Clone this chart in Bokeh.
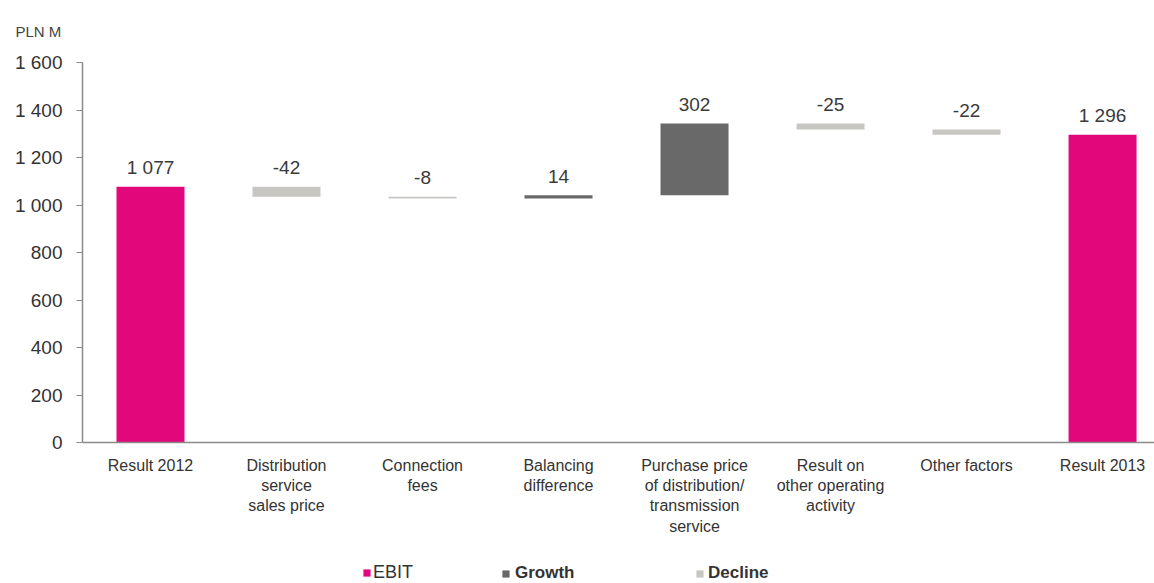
from bokeh.plotting import figure
from bokeh.layouts import column
from bokeh.models import ColumnDataSource, Range1d, FixedTicker, Legend, LegendItem
from bokeh.core.properties import value
from bokeh.embed import file_html
from bokeh.resources import INLINE

# ---- data ----
categories = [
    "Result 2012",
    "Distribution\nservice\nsales price",
    "Connection\nfees",
    "Balancing\ndifference",
    "Purchase price\nof distribution/\ntransmission\nservice",
    "Result on\nother operating\nactivity",
    "Other factors",
    "Result 2013",
]
values = [1077, -42, -8, 14, 302, -25, -22, 1296]
kinds = ["EBIT", "Decline", "Decline", "Growth", "Growth", "Decline", "Decline", "EBIT"]
value_labels = ["1 077", "-42", "-8", "14", "302", "-25", "-22", "1 296"]
y_ticks = [0, 200, 400, 600, 800, 1000, 1200, 1400, 1600]
y_tick_labels = ["0", "200", "400", "600", "800", "1 000", "1 200", "1 400", "1 600"]
unit_label = "PLN M"
legend_names = ["EBIT", "Growth", "Decline"]

colors = {"EBIT": "#e3077c", "Growth": "#696969", "Decline": "#c8c6c3"}
FONT = "Liberation Sans"

# waterfall geometry from the values
bottoms, tops = [], []
running = 0
for v, k in zip(values, kinds):
    if k == "EBIT":
        b, t = 0, v
        running = v
    else:
        b, t = running, running + v
        running += v
    bottoms.append(min(b, t))
    tops.append(max(b, t))

xs = list(range(len(categories)))

p = figure(width=1154, height=555, output_backend="svg", toolbar_location=None,
           x_range=Range1d(-0.5, 7.382), y_range=Range1d(0, 1600),
           min_border_left=82, min_border_right=0, min_border_top=62, min_border_bottom=113)
p.outline_line_color = None
p.xgrid.grid_line_color = None
p.ygrid.grid_line_color = None
p.background_fill_color = "#ffffff"
p.border_fill_color = "#ffffff"

for name in legend_names:
    idx = [i for i, k in enumerate(kinds) if k == name]
    src = ColumnDataSource(dict(x=[xs[i] for i in idx],
                                bottom=[bottoms[i] for i in idx],
                                top=[tops[i] for i in idx]))
    p.vbar(x="x", bottom="bottom", top="top", width=0.5, source=src,
           fill_color=colors[name], line_color=None)

lab_src = ColumnDataSource(dict(x=xs, y=tops, text=value_labels))
p.text(x="x", y="y", text="text", source=lab_src, text_align="center",
       text_baseline="alphabetic", y_offset=-19, text_font=value(FONT),
       text_font_size="19px", text_color="#3a3a3a")

# y axis
ya = p.yaxis[0]
ya.ticker = FixedTicker(ticks=y_ticks)
ya.major_label_overrides = {t: l for t, l in zip(y_ticks, y_tick_labels)}
ya.axis_line_color = "#8a8a8a"
ya.axis_line_width = 1.5
ya.major_tick_line_color = "#8a8a8a"
ya.major_tick_out = 6
ya.major_tick_in = 0
ya.minor_tick_line_color = None
ya.major_label_standoff = 14
ya.major_label_text_font = FONT
ya.major_label_text_font_size = "19px"
ya.major_label_text_color = "#333333"

# x axis
xa = p.xaxis[0]
xa.ticker = FixedTicker(ticks=xs)
xa.major_label_overrides = {i: c for i, c in zip(xs, categories)}
xa.axis_line_color = "#8a8a8a"
xa.axis_line_width = 1.5
xa.major_tick_line_color = None
xa.major_tick_out = 0
xa.major_tick_in = 0
xa.minor_tick_line_color = None
xa.major_label_standoff = 14
xa.major_label_text_font = FONT
xa.major_label_text_font_size = "16px"
xa.major_label_text_color = "#333333"

# unit caption
p.title.text = unit_label
p.title.text_font = FONT
p.title.text_font_size = "15px"
p.title.text_font_style = "normal"
p.title.text_color = "#444444"
p.title.align = "left"
p.title.vertical_align = "top"
p.title.offset = -67
p.title.standoff = 42

# legend strip below the chart
lg = figure(width=1154, height=28, output_backend="svg", toolbar_location=None,
            x_range=Range1d(0, 1), y_range=Range1d(0, 1),
            min_border_left=0, min_border_right=0, min_border_top=0, min_border_bottom=0)
lg.axis.visible = False
lg.grid.grid_line_color = None
lg.outline_line_color = None
lg.background_fill_color = "#ffffff"
lg.border_fill_color = "#ffffff"

legend_x = {"EBIT": 280, "Growth": 419, "Decline": 613}
legend_style = {"EBIT": ("normal", "18px", 2), "Growth": ("bold", "17px", 5), "Decline": ("bold", "17px", 4)}
for name in legend_names:
    # zero-height swatch renderer: only used to draw the legend key
    r = lg.vbar(x=[0.5], top=[0], bottom=[0], width=0, fill_color=colors[name], line_color=None)
    style, size, standoff = legend_style[name]
    legend = Legend(items=[LegendItem(label=name, renderers=[r])], orientation="horizontal",
                    location=(legend_x[name], 0),
                    glyph_width=9, glyph_height=9, label_standoff=standoff,
                    label_text_font=FONT, label_text_font_size=size,
                    label_text_font_style=style, label_text_color="#333333",
                    border_line_color=None, background_fill_alpha=0, padding=0, margin=0)
    lg.add_layout(legend, "center")

open("out.html", "w").write(file_html(column(p, lg, spacing=0), INLINE))
